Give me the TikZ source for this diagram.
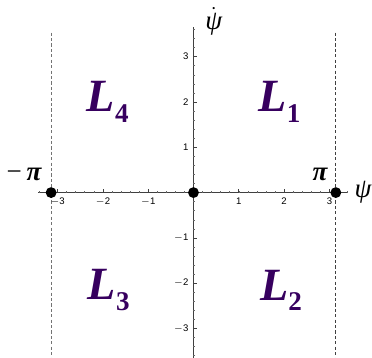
\documentclass[tikz,border=0pt]{standalone}
\usepackage{fontspec}
\setmainfont{Liberation Serif}
\newfontfamily\ticksfont{Liberation Sans}
\usepackage{amsmath}
\usetikzlibrary{positioning}

\definecolor{regionpurple}{RGB}{55,0,95}

\newcommand{\regionlabel}[1]{\fontsize{29}{30}\selectfont\bfseries\itshape L\raisebox{-0.22em}{\upshape\fontsize{17}{18}\selectfont #1}}

\begin{document}
\begin{tikzpicture}[
    axis/.style={draw=black!75,line width=0.5pt},
    majortick/.style={draw=black!75,line width=0.4pt},
    minortick/.style={draw=black!60,line width=0.3pt},
    ticklabel/.style={font=\ticksfont\fontsize{6}{7}\selectfont,inner sep=1pt},
    boundary/.style={draw=black!55,dashed,dash pattern=on 2pt off 1.4pt,line width=0.5pt},
    region/.style={text=regionpurple,inner sep=0pt},
    equilibrium/.style={circle,fill=black,inner sep=0pt,minimum size=0.24cm},
    axislabel/.style={font=\fontsize{17}{18}\selectfont\itshape,inner sep=0pt}
]

\useasboundingbox (-4.27,-3.65) rectangle (3.94,4.25);

% separatrix lines at +-pi
\draw[boundary] (-3.1416,3.53) -- (-3.1416,-3.65);
\draw[boundary,draw=black!75] (3.1416,3.53) -- (3.1416,-3.65);

% axes
\draw[axis] (-3.43,0) -- (3.41,0);
\draw[axis] (0,-3.65) -- (0,3.66);

% minor ticks
\foreach \t in {-3.4,-3.2,...,3.41}
    \draw[minortick] (\t,0) -- (\t,0.04);
\foreach \t in {-3.6,-3.4,...,3.61}
    \draw[minortick] (0,\t) -- (0.04,\t);

% major ticks and labels
\foreach \t/\s in {-3/$-$3,-2/$-$2,-1/$-$1,1/1,2/2,3/3} {
    \draw[majortick] (\t,0) -- (\t,0.07);
    \node[ticklabel,below=2pt] at (\t,0) {\s};
    \draw[majortick] (0,\t) -- (0.07,\t);
    \node[ticklabel,left=2pt] at (0,\t) {\s};
}

% equilibria
\node[equilibrium] (eqleft) at (-3.1416,0) {};
\node[equilibrium] (eqorigin) at (0,0) {};
\node[equilibrium] (eqright) at (3.1416,0) {};

% axis labels
\node[axislabel] (psidot) at (0.45,3.78) {$\dot{\text{\itshape ψ}}$};
\node[axislabel] (psi) at (3.74,0.0) {ψ};
\node[axislabel,font=\fontsize{17}{18}\selectfont\bfseries\itshape] (pilabel) at (2.79,0.39) {π};
\node[axislabel,font=\fontsize{17}{18}\selectfont\bfseries\itshape] (mpilabel) at (-3.74,0.41) {\mdseries\upshape −\,\bfseries\itshape π};

% regions
\node[region] (L1) at (1.90,2.00) {\regionlabel{1}};
\node[region] (L2) at (1.93,-2.15) {\regionlabel{2}};
\node[region] (L3) at (-1.87,-2.15) {\regionlabel{3}};
\node[region] (L4) at (-1.89,2.00) {\regionlabel{4}};

\end{tikzpicture}
\end{document}
